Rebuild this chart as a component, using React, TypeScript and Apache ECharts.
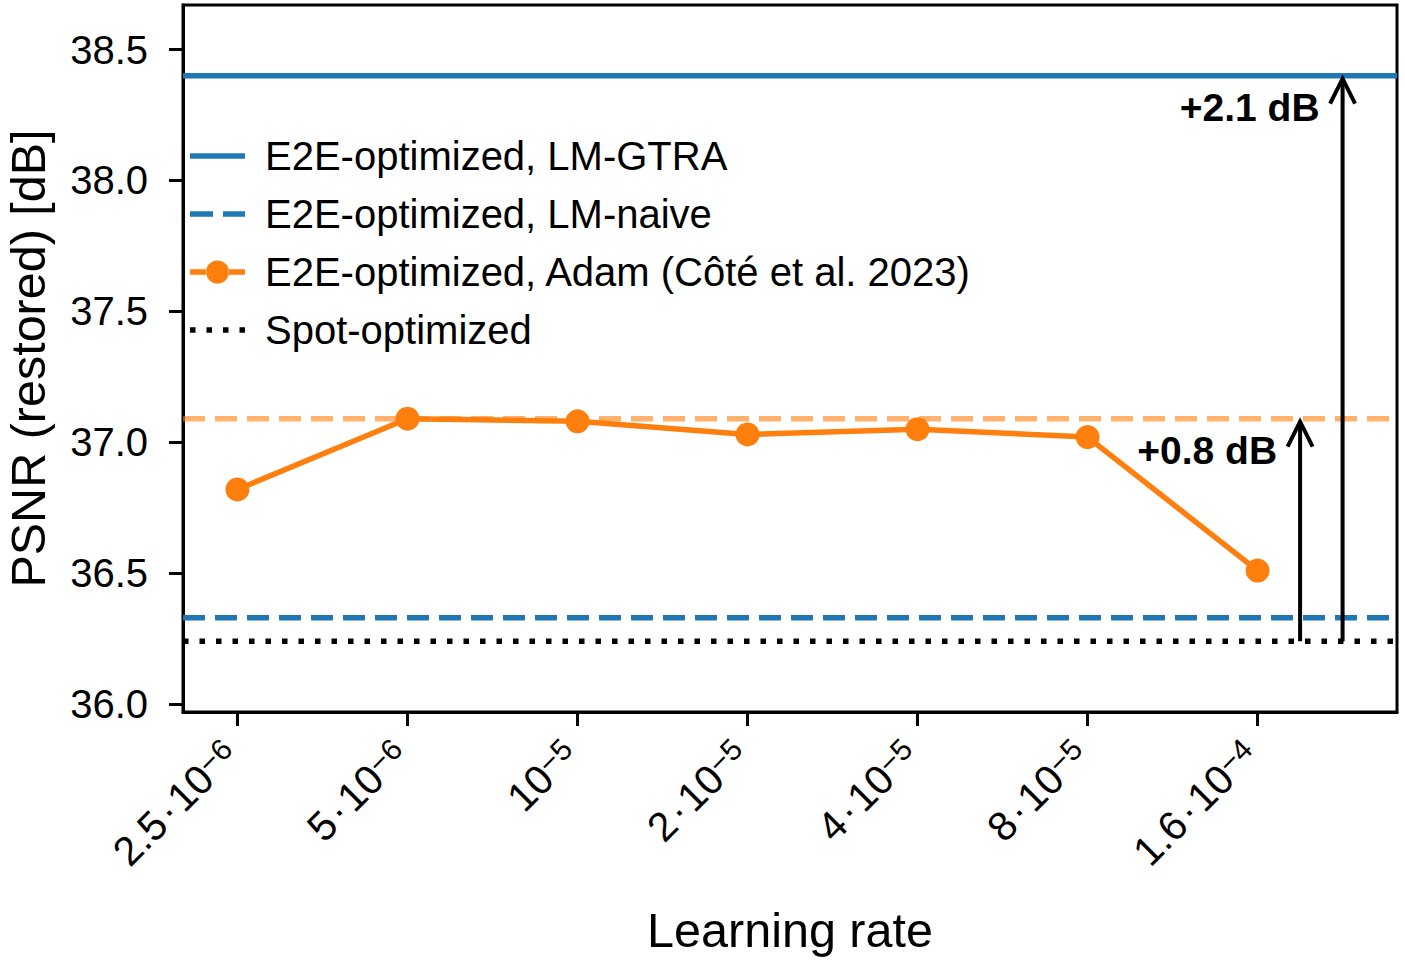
import React, { useEffect, useRef } from "react";
import * as echarts from "echarts";

// Learning-rate tick labels: coefficient (empty for a bare power of ten) and exponent
const lrCoefficients = ["2.5", "5", "", "2", "4", "8", "1.6"];
const lrExponents = ["−6", "−6", "−5", "−5", "−5", "−5", "−4"];

// PSNR of the Adam sweep, one value per learning rate
const adamPsnr = [36.82, 37.09, 37.08, 37.03, 37.05, 37.02, 36.51];

// Reference levels
const gtraPsnr = 38.4;
const naivePsnr = 36.33;
const spotPsnr = 36.24;

// Y axis ticks
const yTicks = [36.0, 36.5, 37.0, 37.5, 38.0, 38.5];

// Gain annotations (x position on the learning-rate axis, label)
const gainX = [6.25, 6.5];
const gainLabels = ["+0.8 dB", "+2.1 dB"];

const FONT = '"Liberation Sans", Arial, Helvetica, sans-serif';
const BLUE = "#1f77b4";
const ORANGE = "#ff7f0e";

const X_MIN = -0.32;
const X_MAX = 6.82;
const Y_MIN = 35.97;
const Y_MAX = 38.67;

// Legend glyphs: solid, dashed, line-with-marker and dotted strokes
const ICON_SOLID = "path://M0,0H55V5.5H0Z";
const ICON_DASHED = "path://M0,0H23V5.5H0Z M33,0H55V5.5H33Z";
const ICON_MARKER =
  "path://M0,8.75H16.5V14.25H0Z M38.5,8.75H55V14.25H38.5Z M16,11.5A11.5,11.5,0,1,0,39,11.5A11.5,11.5,0,1,0,16,11.5Z";
const ICON_DOTTED =
  "path://M0,0H5.5V5.5H0Z M16.5,0H22V5.5H16.5Z M33,0H38.5V5.5H33Z M49.5,0H55V5.5H49.5Z";

export default function App() {
  const ref = useRef<HTMLDivElement>(null);

  useEffect(() => {
    if (!ref.current) return;
    const chart = echarts.init(ref.current, null, { renderer: "svg" });
    const adamBest = Math.max(...adamPsnr);
    const xIdx = lrCoefficients.map((_, i) => i);
    const span = (v: number) => [
      [X_MIN, v],
      [X_MAX, v],
    ];
    const legendItem = (name: string, icon: string, color: string) => ({
      name,
      icon,
      itemStyle: { color, borderWidth: 0 },
    });

    const option: any = {
      animation: false,
      backgroundColor: "#ffffff",
      textStyle: { fontFamily: FONT },
      grid: {
        left: 183,
        right: 8,
        top: 5,
        bottom: 249,
        show: true,
        borderColor: "#000",
        borderWidth: 3,
        containLabel: false,
        outerBoundsMode: "none",
      },
      legend: {
        left: 190,
        top: 136,
        orient: "vertical",
        padding: 0,
        itemWidth: 55,
        itemHeight: 24,
        itemGap: 18,
        selectedMode: false,
        itemStyle: { borderWidth: 0 },
        textStyle: {
          fontFamily: FONT,
          fontSize: 40,
          color: "#000",
          lineHeight: 40,
          padding: [0, 0, 0, 15],
        },
        data: [
          legendItem("E2E-optimized, LM-GTRA", ICON_SOLID, BLUE),
          legendItem("E2E-optimized, LM-naive", ICON_DASHED, BLUE),
          legendItem("E2E-optimized, Adam (Côté et al. 2023)", ICON_MARKER, ORANGE),
          legendItem("Spot-optimized", ICON_DOTTED, "#000"),
        ],
      },
      xAxis: {
        type: "value",
        min: X_MIN,
        max: X_MAX,
        name: "Learning rate",
        nameLocation: "middle",
        nameGap: 193,
        nameTextStyle: { fontFamily: FONT, fontSize: 48.5, color: "#000" },
        axisLine: { show: true, onZero: false, lineStyle: { color: "#000", width: 3 } },
        axisTick: {
          show: true,
          length: 14,
          lineStyle: { color: "#000", width: 3 },
          customValues: xIdx,
        },
        splitLine: { show: false },
        axisLabel: {
          customValues: xIdx,
          rotate: 45,
          margin: 0,
          align: "right",
          verticalAlign: "top",
          padding: [0, 30, 0, 0],
          color: "#000",
          formatter: (v: number) => {
            const i = Math.round(v);
            const c = lrCoefficients[i];
            const base = c ? `{b|${c}}{d|·}{b|10}` : "{b|10}";
            return `${base}{s|${lrExponents[i]}}`;
          },
          rich: {
            b: {
              fontFamily: FONT,
              fontSize: 41,
              lineHeight: 41,
              color: "#000",
              padding: [17, 0, 0, 0],
              verticalAlign: "bottom",
            },
            d: {
              fontFamily: FONT,
              fontSize: 41,
              lineHeight: 41,
              color: "#000",
              padding: [17, 3, 0, 3],
              verticalAlign: "bottom",
            },
            s: {
              fontFamily: FONT,
              fontSize: 30,
              lineHeight: 30,
              color: "#000",
              verticalAlign: "top",
            },
          },
        },
      },
      yAxis: {
        type: "value",
        min: Y_MIN,
        max: Y_MAX,
        name: "PSNR (restored) [dB]",
        nameLocation: "middle",
        nameGap: 131,
        nameTextStyle: { fontFamily: FONT, fontSize: 48.5, color: "#000" },
        axisLine: { show: true, onZero: false, lineStyle: { color: "#000", width: 3 } },
        axisTick: {
          show: true,
          length: 14,
          lineStyle: { color: "#000", width: 3 },
          customValues: yTicks,
        },
        splitLine: { show: false },
        axisLabel: {
          customValues: yTicks,
          margin: 35,
          color: "#000",
          fontFamily: FONT,
          fontSize: 40,
          formatter: (v: number) => v.toFixed(1),
        },
      },
      series: [
        {
          name: "best Adam level",
          type: "line",
          data: span(adamBest),
          symbol: "none",
          silent: true,
          z: 1,
          lineStyle: { color: "rgba(255,127,14,0.6)", width: 5.5, type: [22, 10] },
        },
        {
          name: "E2E-optimized, LM-GTRA",
          type: "line",
          data: span(gtraPsnr),
          symbol: "none",
          silent: true,
          z: 2,
          color: BLUE,
          lineStyle: { color: BLUE, width: 5.5, type: "solid" },
        },
        {
          name: "E2E-optimized, LM-naive",
          type: "line",
          data: span(naivePsnr),
          symbol: "none",
          silent: true,
          z: 2,
          color: BLUE,
          lineStyle: { color: BLUE, width: 5.5, type: [22, 10] },
        },
        {
          name: "E2E-optimized, Adam (Côté et al. 2023)",
          type: "line",
          data: adamPsnr.map((v, i) => [i, v]),
          symbol: "circle",
          symbolSize: 24,
          silent: true,
          z: 4,
          color: ORANGE,
          itemStyle: { color: ORANGE },
          lineStyle: { color: ORANGE, width: 5.5 },
        },
        {
          name: "Spot-optimized",
          type: "line",
          data: span(spotPsnr),
          symbol: "none",
          silent: true,
          z: 2,
          color: "#000",
          lineStyle: { color: "#000", width: 5.5, type: [5.5, 11] },
        },
        {
          name: "gains",
          type: "custom",
          silent: true,
          z: 5,
          encode: { x: 0, y: [1, 2] },
          data: [
            [gainX[0], spotPsnr, adamBest],
            [gainX[1], spotPsnr, gtraPsnr],
          ],
          renderItem: (params: any, api: any) => {
            const x = api.value(0);
            const p0 = api.coord([x, api.value(1)]);
            const p1 = api.coord([x, api.value(2)]);
            const tipY = p1[1] + 3;
            return {
              type: "group",
              children: [
                {
                  type: "line",
                  shape: { x1: p0[0], y1: p0[1], x2: p1[0], y2: tipY },
                  style: { stroke: "#000", lineWidth: 4 },
                },
                {
                  type: "polyline",
                  shape: {
                    points: [
                      [p1[0] - 12.5, tipY + 25],
                      [p1[0], tipY],
                      [p1[0] + 12.5, tipY + 25],
                    ],
                  },
                  style: { stroke: "#000", lineWidth: 4, fill: null },
                },
                {
                  type: "text",
                  x: p1[0] - 23,
                  y: p1[1] + 32,
                  style: {
                    text: gainLabels[params.dataIndex],
                    align: "right",
                    verticalAlign: "middle",
                    font: `bold 39px ${FONT}`,
                    fill: "#000",
                  },
                },
              ],
            };
          },
        },
      ],
    };

    chart.setOption(option);
    return () => chart.dispose();
  }, []);

  return (
    <div
      ref={ref}
      style={{ position: "fixed", left: 0, top: 0, width: 1405, height: 961, background: "#fff" }}
    />
  );
}
